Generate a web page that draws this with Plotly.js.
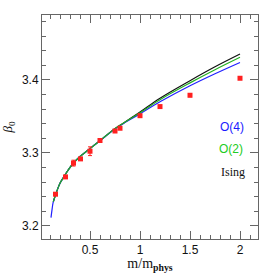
<!DOCTYPE html>
<html>
<head>
<meta charset="utf-8">
<script src="https://cdn.plot.ly/plotly-3.0.1.min.js"></script>
<style>html,body{margin:0;padding:0;background:#fff;}#plot{width:273px;height:273px;}</style>
</head>
<body>
<div id="plot"></div>
<script>
// lattice data points
const dataM = [0.155, 0.255, 0.335, 0.405, 0.5, 0.6, 0.75, 0.8, 1.0, 1.2, 1.5, 2.0];
const dataBeta = [3.2434, 3.2671, 3.2860, 3.2918, 3.3023, 3.3170, 3.3300, 3.3338, 3.3510, 3.3635, 3.3790, 3.4023];
const dataErr = [0.0015, 0.0015, 0.0040, 0.0015, 0.0060, 0.0015, 0.0015, 0.0015, 0.0015, 0.0015, 0.0020, 0.0015];

// scaling curves
const o4M = [0.11, 0.12, 0.13, 0.15, 0.173, 0.2, 0.24, 0.283, 0.333, 0.4, 0.483, 0.567, 0.65, 0.733, 0.833, 1.0, 1.2, 1.5, 1.75, 2.0];
const o4Beta = [3.2114, 3.2219, 3.2311, 3.2402, 3.2493, 3.2584, 3.2675, 3.2767, 3.2858, 3.2950, 3.3041, 3.3132, 3.3222, 3.3312, 3.3400, 3.3535, 3.3700, 3.3920, 3.4085, 3.4240];
const o2M = [0.133, 0.15, 0.173, 0.2, 0.24, 0.283, 0.333, 0.4, 0.483, 0.567, 0.65, 0.733, 0.833, 1.0, 1.2, 1.5, 1.75, 2.0];
const o2Beta = [3.2330, 3.2402, 3.2493, 3.2584, 3.2675, 3.2767, 3.2858, 3.2950, 3.3041, 3.3132, 3.3224, 3.3315, 3.3406, 3.3550, 3.3730, 3.3960, 3.4140, 3.4310];
const isM = [0.133, 0.15, 0.173, 0.2, 0.24, 0.283, 0.333, 0.4, 0.483, 0.567, 0.65, 0.733, 0.833, 1.0, 1.2, 1.5, 1.75, 2.0];
const isBeta = [3.2330, 3.2402, 3.2493, 3.2584, 3.2675, 3.2767, 3.2858, 3.2950, 3.3041, 3.3132, 3.3225, 3.3317, 3.3408, 3.3560, 3.3750, 3.3990, 3.4180, 3.4355];

const legendNames = ['O(4)', 'O(2)', 'Ising'];

const traces = [
  {x: isM, y: isBeta, mode: 'lines', line: {color: '#111111', width: 1.2, shape: 'spline'}, hoverinfo: 'skip'},
  {x: o4M, y: o4Beta, mode: 'lines', line: {color: '#2020ff', width: 1.2, shape: 'spline'}, hoverinfo: 'skip'},
  {x: o2M, y: o2Beta, mode: 'lines', line: {color: '#22b022', width: 1.2, shape: 'spline'}, hoverinfo: 'skip'},
  {x: dataM, y: dataBeta, mode: 'markers',
   marker: {color: '#ff2020', size: 5, symbol: 'square'},
   error_y: {type: 'data', array: dataErr, visible: true, color: '#ff2020', thickness: 1, width: 2}}
];

const axisCommon = {
  showgrid: false, zeroline: false, showline: true, linecolor: '#666', linewidth: 1,
  ticks: 'inside', tickcolor: '#666', tickwidth: 1, ticklen: 8, mirror: 'ticks',
  tickfont: {family: 'Liberation Sans, Arial, sans-serif', size: 12, color: '#111'}
};

const layout = {
  width: 273, height: 273,
  margin: {l: 42, r: 15, t: 15, b: 34},
  paper_bgcolor: '#fff', plot_bgcolor: '#fff',
  showlegend: false,
  xaxis: Object.assign({}, axisCommon, {
    range: [0.02, 2.18], tick0: 0, dtick: 0.5,
    minor: {dtick: 0.1, ticks: 'inside', ticklen: 4, tickcolor: '#666'},
    title: {text: 'm/m<sub><b>phys</b></sub>', font: {family: 'Liberation Serif, Times New Roman, serif', size: 14, color: '#111'}, standoff: 1}
  }),
  yaxis: Object.assign({}, axisCommon, {
    range: [3.182, 3.489], tick0: 3.2, dtick: 0.1, tickformat: '.1f',
    minor: {dtick: 0.02, ticks: 'inside', ticklen: 4, tickcolor: '#666'},
    title: {text: '<i>β</i><sub>0</sub>', font: {family: 'Liberation Serif, Times New Roman, serif', size: 13, color: '#111'}, standoff: 10}
  }),
  annotations: [
    {x: 1.92, y: 3.3356, xref: 'x', yref: 'y', text: legendNames[0], showarrow: false, xanchor: 'center', yanchor: 'middle',
     font: {family: 'Liberation Sans, Arial, sans-serif', size: 12, color: '#1a1aff'}},
    {x: 1.91, y: 3.3048, xref: 'x', yref: 'y', text: legendNames[1], showarrow: false, xanchor: 'center', yanchor: 'middle',
     font: {family: 'Liberation Sans, Arial, sans-serif', size: 12, color: '#22cc22'}},
    {x: 1.93, y: 3.2740, xref: 'x', yref: 'y', text: legendNames[2], showarrow: false, xanchor: 'center', yanchor: 'middle',
     font: {family: 'Liberation Serif, Times New Roman, serif', size: 12, color: '#111'}}
  ]
};

Plotly.newPlot('plot', traces, layout, {staticPlot: true, displayModeBar: false});
</script>
</body>
</html>
